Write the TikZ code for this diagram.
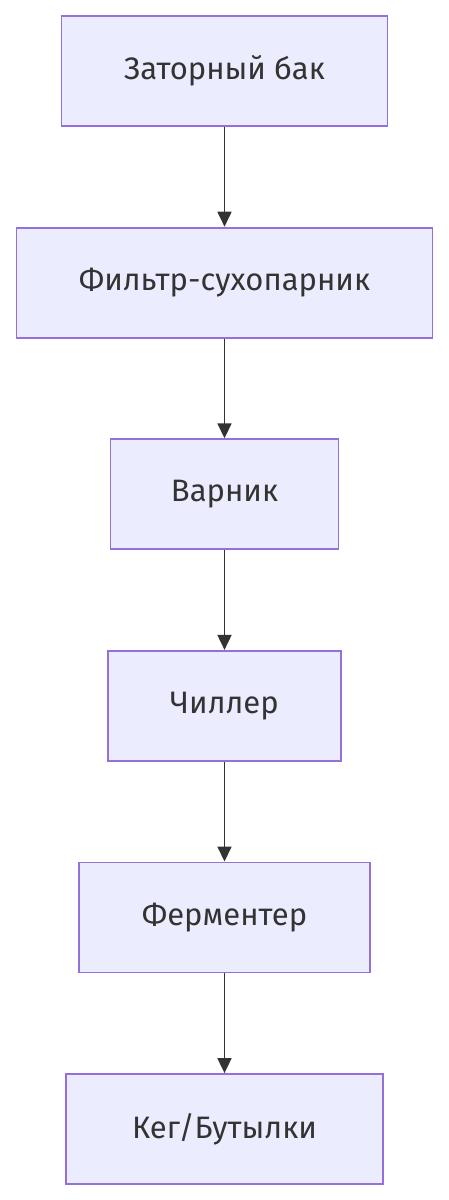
\documentclass[tikz,border=0pt]{standalone}
\usepackage{fontspec}
\setmainfont{Fira Sans}
\usetikzlibrary{positioning,arrows.meta}
\definecolor{boxfill}{HTML}{ECECFF}
\definecolor{boxline}{HTML}{9370DB}
\definecolor{ink}{HTML}{333333}

\begin{document}
\begin{tikzpicture}[x=1pt, y=1pt, node distance=99.8pt,
    stage/.style={draw=boxline, fill=boxfill, line width=1.8pt, minimum height=110pt,
        text=ink, font=\fontsize{31}{36}\selectfont, inner sep=0pt},
    flow/.style={-{Triangle[length=15pt, width=14pt]}, line width=1.8pt, ink}]
    % Canvas
    \useasboundingbox (0,0) rectangle (449,-1200);

    % Stages
    \node[stage, minimum width=326pt] (mash) at (224.5,-71) {Заторный бак};
    \node[stage, minimum width=416pt, below=of mash] (lauter) {Фильтр-сухопарник};
    \node[stage, minimum width=228pt, below=of lauter] (kettle) {Варник};
    \node[stage, minimum width=233pt, below=of kettle] (chiller) {Чиллер};
    \node[stage, minimum width=291pt, below=of chiller] (fermenter) {Ферментер};
    \node[stage, minimum width=317pt, below=of fermenter] (keg) {Кег/Бутылки};

    % Flow arrows
    \draw[flow] (mash) -- (lauter);
    \draw[flow] (lauter) -- (kettle);
    \draw[flow] (kettle) -- (chiller);
    \draw[flow] (chiller) -- (fermenter);
    \draw[flow] (fermenter) -- (keg);
\end{tikzpicture}
\end{document}
